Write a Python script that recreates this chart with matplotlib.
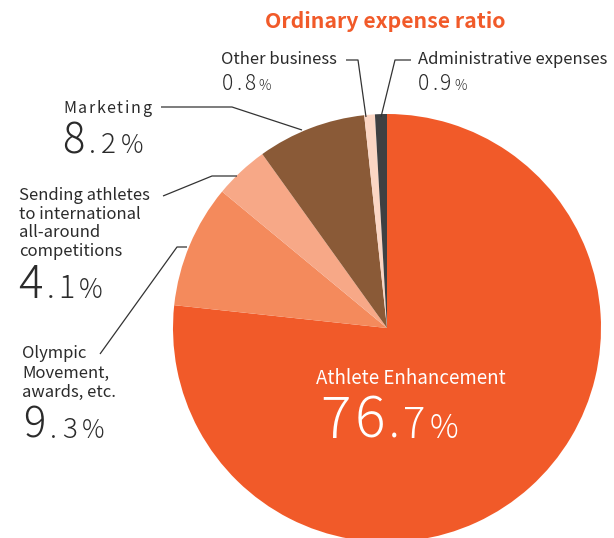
import matplotlib
matplotlib.use("Agg")
import matplotlib.pyplot as plt

# 経常費用の内訳（%）
categories = ["Athlete Enhancement", "Olympic Movement, awards, etc.",
              "Sending athletes to international all-around competitions",
              "Marketing", "Other business", "Administrative expenses"]
ratios = [76.7, 9.3, 4.1, 8.2, 0.8, 0.9]
colors = ["#F15A29", "#F48A5C", "#F7A887", "#8A5A37", "#FBD6C4", "#3E4042"]

W, H = 614, 538
TXT = "#2B2B2B"
FONT = ["Noto Sans CJK JP", "DejaVu Sans"]
plt.rcParams["font.family"] = FONT

fig = plt.figure(figsize=(W / 100, H / 100), dpi=100, facecolor="white")
ax = fig.add_axes([0, 0, 1, 1])

# 画面座標（px, y下向き）で描く
ax.pie(ratios, colors=colors, startangle=-90, counterclock=True,
       center=(387, 328), radius=214, wedgeprops=dict(linewidth=0))
ax.set_xlim(0, W)
ax.set_ylim(H, 0)
ax.set_aspect("equal")
ax.axis("off")

renderer = fig.canvas.get_renderer()


def put_chars(x, y, s, size, color=TXT, weight="light", track=0.0):
    # 1文字ずつ置いて字間をあける
    for ch in s:
        t = ax.text(x, y, ch, fontsize=size, color=color, ha="left", va="baseline",
                    fontweight=weight)
        x += t.get_window_extent(renderer).width + track
    return x


def put_parts(x, y, parts, color=TXT, track=0.0):
    for s, size in parts:
        x = put_chars(x, y, s, size, color=color, track=track)


def put_label(x, y, lines, size=12, gap=19.3, color=TXT):
    for i, s in enumerate(lines):
        ax.text(x, y + i * gap, s, fontsize=size, color=color, ha="left", va="baseline")


def split_value(v):
    a, b = f"{v:.1f}".split(".")
    return a, "." + b


def leader(pts):
    xs, ys = zip(*pts)
    ax.plot(xs, ys, color="#333333", lw=0.9, solid_capstyle="butt")


ax.text(385, 28, "Ordinary expense ratio", fontsize=15.3, fontweight="bold",
        color="#F15A29", ha="center", va="baseline")

# Athlete Enhancement
put_label(316, 384, [categories[0]], size=13.5, color="white")
a, b = split_value(ratios[0])
put_parts(320, 438, [(a, 41), (b, 30), ("%", 23)], color="white", track=4)

# Olympic Movement
put_label(22, 358, ["Olympic", "Movement,", "awards, etc."], gap=19.6)
a, b = split_value(ratios[1])
put_parts(23, 438, [(a, 30), (b, 20), ("%", 18)], track=5)
leader([(100, 354), (177, 247), (187, 247)])

# Sending athletes
put_label(19, 200, ["Sending athletes", "to international", "all-around", "competitions"], gap=18.7)
a, b = split_value(ratios[2])
put_parts(18, 298, [(a, 33), (b, 22), ("%", 19)], track=4)
leader([(163, 196), (212, 176), (237, 176)])

# Marketing
put_chars(63, 113, categories[3], 11.5, weight="normal", track=1.6)
a, b = split_value(ratios[3])
put_parts(62, 153, [(a, 30), (b, 20), ("%", 18)], track=5)
leader([(161, 107), (232, 107), (302, 130)])

# Other business
put_label(221, 64, [categories[4]])
put_parts(222, 90, [(f"{ratios[4]:.1f}", 15), ("%", 10)], track=3)
leader([(346, 60), (358, 60), (366, 117)])

# Administrative expenses
put_label(418, 64, [categories[5]])
put_parts(418, 90, [(f"{ratios[5]:.1f}", 15), ("%", 10)], track=3)
leader([(411, 60), (395, 60), (381, 117)])

fig.savefig("out.png", dpi=100, facecolor="white")
